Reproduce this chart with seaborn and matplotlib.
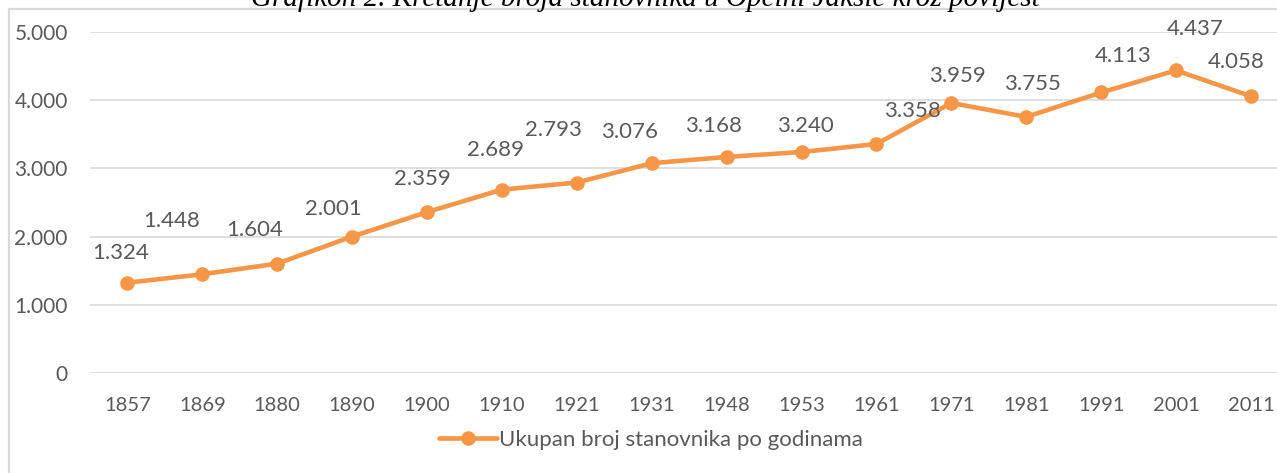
import matplotlib
matplotlib.use("Agg")
import matplotlib.pyplot as plt
import seaborn as sns
import pandas as pd
from matplotlib.patches import Rectangle

# ---- data ----
years = ["1857", "1869", "1880", "1890", "1900", "1910", "1921", "1931",
         "1948", "1953", "1961", "1971", "1981", "1991", "2001", "2011"]
population = [1324, 1448, 1604, 2001, 2359, 2689, 2793, 3076,
              3168, 3240, 3358, 3959, 3755, 4113, 4437, 4058]
series_name = "Ukupan broj stanovnika po godinama"
y_ticks = [0, 1000, 2000, 3000, 4000, 5000]
title_text = "Grafikon 2. Kretanje broja stanovnika u Općini Jakšić kroz povijest"

# label offsets in pixels (dx, dy up) -- placement only
label_offsets = [(-7, 30), (-31, 53), (-23, 34), (-19, 28), (-5, 33), (-6, 40),
                 (-23, 53), (-22, 31), (-13, 31), (4, 26), (36, 33), (6, 27),
                 (6, 33), (22, 36), (19, 41), (-15, 34)]

def fmt(v):
    s = f"{int(v):,}".replace(",", ".")
    return s

sns.set_theme(style="white")
plt.rcParams['font.family'] = ['Lato', 'DejaVu Sans']

W, H = 1277, 473
fig = plt.figure(figsize=(W / 100, H / 100), dpi=100)
fig.patch.set_facecolor("white")

left_px, axis_bottom_px, top_px = 90, 373, 32
ax = fig.add_axes([left_px / W, (H - axis_bottom_px) / H,
                   (W - left_px) / W, (axis_bottom_px - top_px) / H])

df = pd.DataFrame({"Godina": years, "Stanovnici": population})
orange = "#F79646"
sns.lineplot(data=df, x="Godina", y="Stanovnici", ax=ax, sort=False,
             color=orange, linewidth=3.3, marker="o", markersize=10.5,
             markeredgewidth=0, label=series_name)

cat_w = 74.9
ax.set_xlim(-0.5, -0.5 + (W - left_px) / cat_w)
ax.set_ylim(0, 5000)
ax.set_yticks(y_ticks)
ax.set_yticklabels([fmt(v) for v in y_ticks])
ax.grid(axis="y", color="#D9D9D9", linewidth=1.2)
ax.set_axisbelow(True)
for s in ax.spines.values():
    s.set_visible(False)
ax.set_xlabel("")
ax.set_ylabel("")
ax.tick_params(axis="y", length=0, pad=16, labelsize=15, labelcolor="#595959")
ax.tick_params(axis="x", length=0, pad=17, labelsize=14.5, labelcolor="#595959")

for i, (v, (dx, dy)) in enumerate(zip(population, label_offsets)):
    ax.annotate(fmt(v), (i, v), xytext=(dx, dy), textcoords="offset pixels",
                ha="center", va="center", fontsize=16, color="#595959")

leg = ax.legend(loc="center", bbox_to_anchor=(651 / W, 1 - 440 / H),
                bbox_transform=fig.transFigure, frameon=False, fontsize=16,
                handlelength=2.6, handletextpad=0.1)
for t in leg.get_texts():
    t.set_color("#595959")

# outer chart border (partly cropped)
fig.patches.append(Rectangle((9 / W, -0.1), 1.2, 1 - 9 / H + 0.1,
                             transform=fig.transFigure, fill=False,
                             edgecolor="#D9D9D9", linewidth=1.6))

# cropped title (the reference shows only its lower part)
fig.text(645 / W, 1 - 6 / H, title_text, ha="center", va="baseline",
         fontsize=21, style="italic", family=["Liberation Serif", "DejaVu Serif"],
         color="black")

fig.savefig("out.png", dpi=100)
